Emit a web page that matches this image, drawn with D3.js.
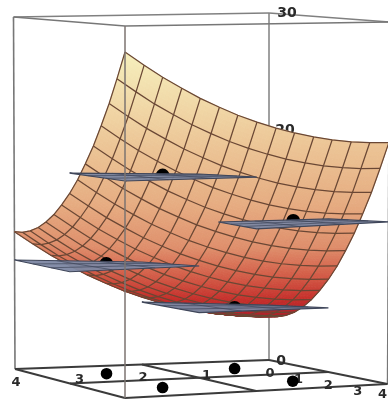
<!DOCTYPE html>
<html>
<head>
<meta charset="utf-8">
<script src="https://cdn.jsdelivr.net/npm/d3@7"></script>
<style>
  html, body { margin: 0; padding: 0; background: #fff; overflow: hidden; }
  text { font-family: "DejaVu Sans", sans-serif; font-weight: bold; fill: #2a2a2a; }
</style>
</head>
<body>
<div id="chart"></div>
<script>
var xTicks = [4, 3, 2, 1, 0];
var yTicks = [1, 2, 3, 4];
var zTicks = [0, 10, 20, 30];

// surface heights, one row per y step, one column per x step (0 to 4 in 14 steps)
var gridX = [0, 0.29, 0.57, 0.86, 1.14, 1.43, 1.71, 2, 2.29, 2.57, 2.86, 3.14, 3.43, 3.71, 4];
var gridY = [0, 0.29, 0.57, 0.86, 1.14, 1.43, 1.71, 2, 2.29, 2.57, 2.86, 3.14, 3.43, 3.71, 4];
var heights = [
  [3.80,3.84,3.96,4.16,4.44,4.81,5.25,5.78,6.38,7.07,7.83,8.68,9.60,10.61,11.70],
  [3.88,3.92,4.04,4.24,4.52,4.89,5.33,5.86,6.46,7.15,7.91,8.76,9.68,10.69,11.78],
  [4.13,4.17,4.29,4.49,4.77,5.14,5.58,6.11,6.71,7.40,8.16,9.01,9.93,10.94,12.03],
  [4.54,4.58,4.70,4.90,5.18,5.55,5.99,6.52,7.12,7.81,8.57,9.42,10.34,11.35,12.44],
  [5.12,5.16,5.28,5.48,5.76,6.13,6.57,7.10,7.70,8.39,9.15,10.00,10.92,11.93,13.02],
  [5.87,5.91,6.03,6.23,6.51,6.88,7.32,7.85,8.45,9.14,9.90,10.75,11.67,12.68,13.77],
  [6.78,6.82,6.94,7.14,7.42,7.79,8.23,8.76,9.36,10.05,10.81,11.66,12.58,13.59,14.68],
  [7.85,7.89,8.01,8.21,8.49,8.86,9.30,9.83,10.43,11.12,11.88,12.73,13.65,14.66,15.75],
  [9.09,9.13,9.25,9.45,9.73,10.10,10.54,11.07,11.67,12.36,13.12,13.97,14.89,15.90,16.99],
  [10.50,10.54,10.66,10.86,11.14,11.51,11.95,12.48,13.08,13.77,14.53,15.38,16.30,17.31,18.40],
  [12.07,12.11,12.23,12.43,12.71,13.08,13.52,14.05,14.65,15.34,16.10,16.95,17.87,18.88,19.97],
  [13.80,13.84,13.96,14.16,14.44,14.81,15.25,15.78,16.38,17.07,17.83,18.68,19.60,20.61,21.70],
  [15.70,15.74,15.86,16.06,16.34,16.71,17.15,17.68,18.28,18.97,19.73,20.58,21.50,22.51,23.60],
  [17.77,17.81,17.93,18.13,18.41,18.78,19.22,19.75,20.35,21.04,21.80,22.65,23.57,24.58,25.67],
  [20.00,20.04,20.16,20.36,20.64,21.01,21.45,21.98,22.58,23.27,24.03,24.88,25.80,26.81,27.90]
];

// the four sample points
var pointX = [3, 3, 1, 1];
var pointY = [1, 3, 1, 3];
var pointZ = [9.26, 17.43, 5.16, 13.33];

// tangent patches, corners as [x, y, z]
var planes = [
  [[4, 0, 9.29], [2, 0, 8.80], [2, 2, 9.36], [4, 2, 9.26]],
  [[4, 2, 17.44], [2, 2, 17.06], [2, 4, 17.49], [4, 4, 17.50]],
  [[2, 0, 5.36], [0, 0, 4.75], [0, 2, 5.42], [2, 2, 5.45]],
  [[1.75, 2.1, 13.04], [0, 2, 12.95], [0, 4, 13.43], [2, 4, 13.26]]
];

var w = 388;
var h = 402;

// screen position of the eight corners of the box
var floorB = [269, 360], floorL = [15, 369], floorR = [387.5, 384], floorF = [125, 398];
var topB = [269, 13], topL = [13.5, 17], topR = [389.5, 22], topF = [125, 26];

var xScale = d3.scaleLinear().domain([0, 4]).range([0, 1]);
var yScale = d3.scaleLinear().domain([0, 4]).range([0, 1]);
var zScale = d3.scaleLinear().domain([0, 30]).range([0, 1]);

var colorScale = d3.scaleLinear()
  .domain([3.8, 6, 8.5, 11, 15, 20, 28])
  .range(["#a81f2b", "#c5302c", "#d4604a", "#df8f6c", "#e6ad82", "#ecc596", "#f6f0bd"]);

function mix(a, b, t) {
  return [a[0] + (b[0] - a[0]) * t, a[1] + (b[1] - a[1]) * t];
}

// trilinear map from data space to the picture
function project(x, y, z) {
  var s = xScale(x), t = yScale(y), u = zScale(z);
  var bottom = mix(mix(floorB, floorL, s), mix(floorR, floorF, s), t);
  var top = mix(mix(topB, topL, s), mix(topR, topF, s), t);
  return mix(bottom, top, u);
}

var svg = d3.select("#chart")
  .append("svg")
  .attr("width", w)
  .attr("height", h)
  .style("display", "block");

svg.append("defs").append("filter")
  .attr("id", "soft")
  .attr("filterUnits", "userSpaceOnUse")
  .attr("x", 0).attr("y", 0).attr("width", w).attr("height", h)
  .append("feGaussianBlur")
  .attr("stdDeviation", 0.35);

var root = svg.append("g").attr("filter", "url(#soft)");

function edge(a, b, color, width) {
  root.append("line")
    .attr("x1", a[0]).attr("y1", a[1])
    .attr("x2", b[0]).attr("y2", b[1])
    .attr("stroke", color)
    .attr("stroke-width", width);
}

// back of the box
edge(topL, floorL, "#777", 1.6);
edge(topB, floorB, "#808080", 1.5);
edge(topR, floorR, "#777", 1.5);
edge(topL, topB, "#808080", 1.3);
edge(topB, topR, "#808080", 1.3);
edge(topL, topF, "#777", 1.3);
edge(topF, topR, "#777", 1.5);

// floor
edge(floorL, floorB, "#3a3a3a", 1.9);
edge(floorB, floorR, "#3a3a3a", 1.9);
edge(floorL, floorF, "#3a3a3a", 1.9);
edge(floorF, floorR, "#3a3a3a", 1.9);
edge(project(4, 2, 0), project(0, 2, 0), "#3a3a3a", 1.9);
edge(project(2, 0, 0), project(2, 4, 0), "#3a3a3a", 1.9);

// tick labels
root.selectAll(".xlabel")
  .data(xTicks)
  .enter()
  .append("text")
  .attr("class", "xlabel")
  .attr("font-size", 13)
  .attr("text-anchor", "middle")
  .attr("x", function(d) { return project(d, 0, 0)[0] + 1; })
  .attr("y", function(d) { return project(d, 0, 0)[1] + 16.5; })
  .text(function(d) { return d; });

root.selectAll(".ylabel")
  .data(yTicks)
  .enter()
  .append("text")
  .attr("class", "ylabel")
  .attr("font-size", 13)
  .attr("text-anchor", function(d) { return d === 4 ? "end" : "middle"; })
  .attr("x", function(d) { return d === 4 ? w - 1 : project(0, d, 0)[0]; })
  .attr("y", function(d) { return d === 4 ? h - 4 : project(0, d, 0)[1] + 17; })
  .text(function(d) { return d; });

var zLabelShift = d3.scaleLinear().domain([0, 30]).range([12, 18]);

root.selectAll(".zlabel")
  .data(zTicks)
  .enter()
  .append("text")
  .attr("class", "zlabel")
  .attr("font-size", 14)
  .attr("text-anchor", "middle")
  .attr("x", function(d) { return project(0, 0, d)[0] + zLabelShift(d); })
  .attr("y", function(d) { return project(0, 0, d)[1] + (d === 30 ? 4 : 5); })
  .text(function(d) { return d; });

// floor dots
root.selectAll(".floordot")
  .data(pointX)
  .enter()
  .append("circle")
  .attr("class", "floordot")
  .attr("cx", function(d, i) { return project(pointX[i], pointY[i], 0)[0]; })
  .attr("cy", function(d, i) { return project(pointX[i], pointY[i], 0)[1]; })
  .attr("r", 5.8)
  .attr("fill", "#000");

// surface, each cell cut into small pieces so the colour runs smoothly
var pieces = [];
var steps = 6;
for (var r = 0; r < gridY.length - 1; r++) {
  for (var c = 0; c < gridX.length - 1; c++) {
    for (var a = 0; a < steps; a++) {
      for (var b = 0; b < steps; b++) {
        pieces.push({ r: r, c: c, a: a / steps, b: b / steps, d: 1 / steps });
      }
    }
  }
}

function surfacePoint(r, c, a, b) {
  var z = (heights[r][c] * (1 - a) + heights[r][c + 1] * a) * (1 - b) +
          (heights[r + 1][c] * (1 - a) + heights[r + 1][c + 1] * a) * b;
  var x = gridX[c] + (gridX[c + 1] - gridX[c]) * a;
  var y = gridY[r] + (gridY[r + 1] - gridY[r]) * b;
  return { x: x, y: y, z: z };
}

function pieceCorners(d) {
  return [[0, 0], [d.d, 0], [d.d, d.d], [0, d.d]].map(function(o) {
    return surfacePoint(d.r, d.c, d.a + o[0], d.b + o[1]);
  });
}

root.append("g").selectAll("polygon")
  .data(pieces)
  .enter()
  .append("polygon")
  .attr("points", function(d) {
    return pieceCorners(d).map(function(p) { return project(p.x, p.y, p.z).join(","); }).join(" ");
  })
  .attr("fill", function(d) {
    return colorScale(d3.mean(pieceCorners(d), function(p) { return p.z; }));
  })
  .attr("stroke", function(d) {
    return colorScale(d3.mean(pieceCorners(d), function(p) { return p.z; }));
  })
  .attr("stroke-width", 0.9);

// mesh lines
var meshLine = d3.line();
var meshColor = "#6a4734";

root.append("g").selectAll("path.row")
  .data(heights)
  .enter()
  .append("path")
  .attr("class", "row")
  .attr("d", function(row, r) {
    return meshLine(row.map(function(z, c) { return project(gridX[c], gridY[r], z); }));
  })
  .attr("fill", "none")
  .attr("stroke", meshColor)
  .attr("stroke-width", 1.25);

root.append("g").selectAll("path.col")
  .data(gridX)
  .enter()
  .append("path")
  .attr("class", "col")
  .attr("d", function(x, c) {
    return meshLine(heights.map(function(row, r) { return project(x, gridY[r], row[c]); }));
  })
  .attr("fill", "none")
  .attr("stroke", meshColor)
  .attr("stroke-width", 1.25);

// dots on the surface, only the half above the patch shows
var domeArc = d3.arc()
  .innerRadius(0)
  .outerRadius(7)
  .startAngle(-Math.PI / 2)
  .endAngle(Math.PI / 2);

root.selectAll(".dot")
  .data(pointX)
  .enter()
  .append("path")
  .attr("class", "dot")
  .attr("d", domeArc)
  .attr("transform", function(d, i) {
    var p = project(pointX[i], pointY[i], pointZ[i]);
    return "translate(" + p[0] + "," + p[1] + ")";
  })
  .attr("fill", "#000");

// tangent patches
function cut(p, q, t) {
  return [p[0] + (q[0] - p[0]) * t, p[1] + (q[1] - p[1]) * t, p[2] + (q[2] - p[2]) * t];
}

var patchLine = d3.line();
planes.forEach(function(corners) {
  var g = root.append("g");
  g.append("polygon")
    .attr("points", corners.map(function(p) { return project(p[0], p[1], p[2]).join(","); }).join(" "))
    .attr("fill", "#7d88a3")
    .attr("fill-opacity", 0.95)
    .attr("stroke", "#3f465a")
    .attr("stroke-width", 1.2);
  [0.33, 0.66].forEach(function(t) {
    g.append("path")
      .attr("d", patchLine([cut(corners[0], corners[1], t), cut(corners[3], corners[2], t)].map(function(p) { return project(p[0], p[1], p[2]); })))
      .attr("stroke", "#3f465a")
      .attr("stroke-width", 0.7);
    g.append("path")
      .attr("d", patchLine([cut(corners[0], corners[3], t), cut(corners[1], corners[2], t)].map(function(p) { return project(p[0], p[1], p[2]); })))
      .attr("stroke", "#3f465a")
      .attr("stroke-width", 0.7);
  });
});

// front edge stays in front of the surface
edge(topF, floorF, "#7c7470", 1.5);
</script>
</body>
</html>
